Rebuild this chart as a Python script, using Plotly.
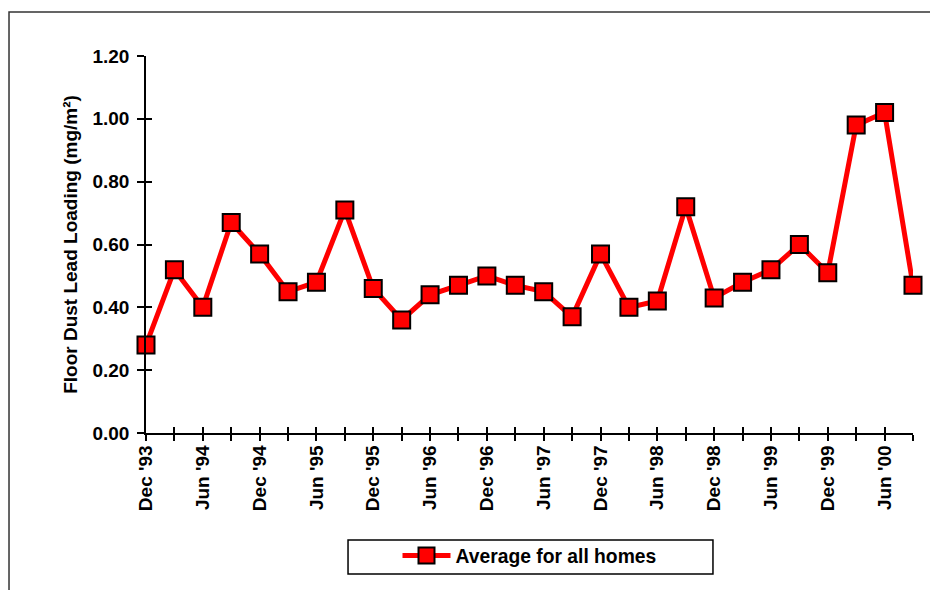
import plotly.graph_objects as go

quarters = ["Dec '93", "Mar '94", "Jun '94", "Sep '94", "Dec '94", "Mar '95", "Jun '95", "Sep '95",
            "Dec '95", "Mar '96", "Jun '96", "Sep '96", "Dec '96", "Mar '97", "Jun '97", "Sep '97",
            "Dec '97", "Mar '98", "Jun '98", "Sep '98", "Dec '98", "Mar '99", "Jun '99", "Sep '99",
            "Dec '99", "Mar '00", "Jun '00", "Sep '00"]
avg_all_homes = [0.28, 0.52, 0.40, 0.67, 0.57, 0.45, 0.48, 0.71,
                 0.46, 0.36, 0.44, 0.47, 0.50, 0.47, 0.45, 0.37,
                 0.57, 0.40, 0.42, 0.72, 0.43, 0.48, 0.52, 0.60,
                 0.51, 0.98, 1.02, 0.47]
tick_labels = [q if i % 2 == 0 else "" for i, q in enumerate(quarters)]
y_ticks = [0.0, 0.2, 0.4, 0.6, 0.8, 1.0, 1.2]

FONT = "Liberation Sans, Arial, Helvetica, sans-serif"

fig = go.Figure()
fig.add_trace(go.Scatter(
    x=quarters, y=avg_all_homes, mode="lines+markers",
    name="Average for all homes",
    line=dict(color="#ff0000", width=5),
    marker=dict(symbol="square", size=17, color="#ff0000", line=dict(color="black", width=2)),
    cliponaxis=False,
))

axis_font = dict(family=FONT, size=19, color="black", weight="bold")

fig.update_layout(
    width=938, height=590,
    margin=dict(l=138, r=33, t=48, b=165, pad=0),
    paper_bgcolor="white", plot_bgcolor="white",
    showlegend=True,
    legend=dict(
        orientation="h", x=0.5, xanchor="center", y=-0.326, yanchor="middle",
        bgcolor="rgba(0,0,0,0)", borderwidth=0, itemwidth=48,
        font=dict(family=FONT, size=19.3, color="black", weight="bold"),
    ),
    xaxis=dict(
        type="category", range=[0, len(quarters) - 1],
        tickmode="array", tickvals=quarters, ticktext=tick_labels,
        tickangle=-90, ticks="outside", ticklen=6, tickwidth=1.5, tickcolor="black",
        ticklabelstandoff=-3,
        showline=True, linecolor="black", linewidth=1.5, showgrid=False, zeroline=False,
        tickfont=axis_font,
    ),
    yaxis=dict(
        range=[0, 1.2], tickmode="array", tickvals=y_ticks, tickformat=".2f",
        ticks="outside", ticklen=7, tickwidth=1.5, tickcolor="black",
        ticklabelstandoff=4,
        showline=True, linecolor="black", linewidth=1.5, showgrid=False, zeroline=False,
        tickfont=axis_font,
        title=dict(text="Floor Dust Lead Loading (mg/m²)", standoff=10,
                   font=dict(family=FONT, size=19, color="black", weight="bold")),
    ),
    xaxis2=dict(
        overlaying="x", type="linear", range=[0, len(quarters) - 1],
        tickmode="linear", tick0=0, dtick=1, ticks="inside", ticklen=6, tickwidth=1.5,
        tickcolor="black", showticklabels=False, showline=False, showgrid=False, zeroline=False,
    ),
    yaxis2=dict(
        overlaying="y", range=[0, 1.2], tickmode="array", tickvals=y_ticks,
        ticks="inside", ticklen=6, tickwidth=1.5, tickcolor="black",
        showticklabels=False, showline=False, showgrid=False, zeroline=False,
    ),
    shapes=[
        # outer frame
        dict(type="rect", xref="paper", yref="paper", x0=-0.1786, x1=1.05, y0=-0.46, y1=1.1167,
             line=dict(color="#333333", width=1.5), fillcolor="rgba(0,0,0,0)", layer="below"),
        # legend box
        dict(type="rect", xref="paper", yref="paper", x0=0.2634, x1=0.7392, y0=-0.374, y1=-0.2838,
             line=dict(color="black", width=1.5), fillcolor="rgba(0,0,0,0)"),
    ],
)
# invisible trace to activate the overlay axes
fig.add_trace(go.Scatter(x=[0], y=[0], xaxis="x2", yaxis="y2", mode="markers",
                         marker=dict(opacity=0), showlegend=False, hoverinfo="skip"))

fig.write_html("out.html")
